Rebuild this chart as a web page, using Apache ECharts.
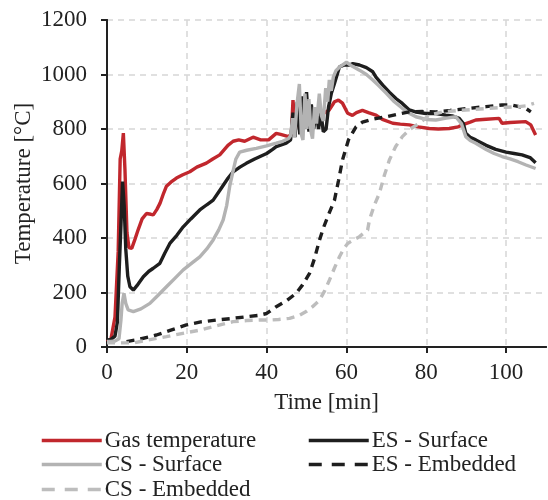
<!DOCTYPE html>
<html>
<head>
<meta charset="utf-8">
<script src="https://cdn.jsdelivr.net/npm/echarts@6/dist/echarts.min.js"></script>
<style>
  html, body { margin: 0; padding: 0; background: #fff; }
  #chart { width: 548px; height: 500px; }
</style>
</head>
<body>
<div id="chart"></div>
<script>
// [time (min), temperature (°C)]
const gasTemp = [
  [0, 20], [1, 30], [2, 110], [2.8, 350], [3.3, 690], [3.7, 720], [4.1, 785], [4.5, 650], [5, 420],
  [5.5, 365], [6.2, 362], [7, 395], [7.8, 430], [8.8, 470], [9.9, 490], [11, 487], [11.6, 485],
  [12.5, 505], [13.3, 528], [14.2, 565], [14.9, 590], [16, 605], [17.4, 620], [19, 632], [20.75, 643],
  [22.5, 660], [24.9, 675], [26.5, 690], [28.25, 705], [30.3, 740], [31.6, 755], [33, 760], [34.5, 755],
  [36.6, 770], [38.5, 760], [40.5, 760], [42.4, 784], [43.5, 780], [45.5, 772], [46.2, 780], [46.6, 906],
  [47.2, 800], [48, 860], [49, 820], [50, 850], [51, 830], [52, 860], [53, 840], [54, 855], [55.7, 870],
  [57, 900], [58, 906], [59, 895], [60.3, 858], [61.5, 850], [62.5, 860], [64, 868], [65.5, 860],
  [67.4, 851], [69, 835], [71.6, 821], [73.5, 818], [75.75, 815], [78, 808], [80.75, 802], [83, 800],
  [85.75, 802], [88, 808], [89, 815], [91, 825], [92.4, 833], [95, 836], [98.25, 839], [99, 821],
  [101, 824], [104.9, 827], [106.2, 815], [107.4, 778]
];
const esSurface = [
  [0, 25], [1, 28], [2, 40], [2.6, 90], [3.1, 300], [3.5, 450], [3.9, 607], [4.3, 520], [4.7, 360],
  [5.2, 260], [5.75, 221], [6.6, 209], [7.5, 225], [9.1, 258], [10.5, 278], [11.6, 289], [13.25, 307],
  [14.5, 345], [15.75, 380], [17.5, 410], [19.1, 441], [21, 470], [23.25, 503], [25, 522], [26.6, 539],
  [28.5, 580], [30.3, 619], [31.6, 643], [33.3, 660], [34.9, 674], [37, 690], [38.5, 700], [40, 710],
  [41.5, 725], [42.4, 735], [44.9, 748], [46, 760], [46.6, 860], [47.1, 770], [47.7, 900], [48.3, 780],
  [48.9, 920], [49.5, 800], [50, 935], [50.6, 790], [51.2, 890], [51.8, 800], [52.4, 870], [53, 800],
  [53.6, 860], [54.2, 790], [54.9, 800], [55.5, 880], [56.2, 930], [57, 967], [58.25, 1028],
  [59.5, 1035], [60.75, 1035], [61.6, 1040], [63.25, 1035], [65, 1025], [66.6, 1010], [67.4, 990],
  [69.1, 961], [70.75, 935], [72.4, 912], [74, 894], [75.75, 870], [77.5, 862], [79.9, 857],
  [82.4, 857], [84.9, 851], [86.5, 848], [88.25, 839], [89.3, 820], [89.9, 784], [91, 770],
  [92.4, 760], [95, 740], [97.4, 725], [100, 715], [102, 710], [104, 705], [106, 695], [107.4, 676]
];
const csSurface = [
  [0, 20], [1, 20], [2, 22], [3, 30], [3.5, 100], [3.8, 160], [4.25, 197], [4.7, 160], [5.3, 136],
  [6.6, 130], [8.5, 140], [10.75, 160], [12.8, 190], [14.9, 221], [17, 252], [19.1, 283], [21, 305],
  [23.25, 331], [25, 360], [26.6, 393], [28, 430], [29.1, 466], [30, 520], [30.75, 590], [31.5, 640],
  [32.3, 690], [33.25, 715], [35, 722], [37.4, 729], [40, 738], [42.4, 748], [44, 755], [45.5, 765],
  [46, 775], [46.5, 840], [47, 770], [47.6, 890], [48.2, 965], [48.7, 780], [49.1, 760], [49.6, 930],
  [50.1, 800], [50.6, 910], [51.1, 790], [51.5, 765], [52, 880], [52.5, 820], [53.2, 930], [53.7, 850],
  [54.2, 830], [54.8, 950], [55.3, 900], [55.7, 980], [56.2, 940], [56.7, 990], [57.4, 1015],
  [58.5, 1030], [60, 1045], [61.5, 1030], [63.25, 1016], [65, 1000], [66.6, 980], [68, 960], [70, 931],
  [72, 900], [74, 876], [75.5, 860], [77.4, 845], [80, 835], [82.4, 833], [85, 840], [87.4, 845],
  [88.8, 820], [89.9, 772], [91, 758], [92.4, 748], [95, 725], [97, 710], [99, 699], [101, 690],
  [103, 680], [105, 668], [107.4, 655]
];
const esEmbedded = [
  [4.9, 20], [8, 28], [12.4, 44], [16, 62], [19.9, 81], [23.5, 92], [27.4, 99], [31, 104], [34.9, 111],
  [38, 116], [40, 123], [42.4, 148], [45, 170], [47.4, 197], [49, 228], [50.75, 270], [52, 325],
  [53.25, 393], [54.3, 440], [55.3, 478], [57, 539], [58, 610], [59, 686], [60.5, 760], [62.4, 808],
  [64, 825], [65.75, 833], [68, 840], [70, 845], [73, 855], [75.75, 863], [79, 864], [82.4, 863],
  [86, 868], [90.75, 876], [95, 882], [99, 888], [101.5, 888], [103.25, 882], [105, 875], [106.2, 863]
];
const csEmbedded = [
  [0, 15], [3, 15], [6.6, 15], [10, 25], [14.9, 38], [19, 50], [23.25, 62], [27.5, 78], [31.6, 93],
  [35, 97], [38.25, 99], [40.75, 99], [43, 101], [45.75, 105], [48, 115], [49.9, 130], [51.5, 148],
  [53.25, 172], [54.5, 205], [55.75, 246], [57, 290], [58.25, 331], [59.3, 360], [60.3, 380], [62, 395],
  [63.25, 405], [64.5, 420], [65.3, 429], [65.75, 466], [67, 521], [68.25, 564], [69.5, 630],
  [70.75, 686], [72.3, 735], [74, 772], [76, 800], [78.25, 821], [80.75, 851], [84, 862], [88, 868],
  [92, 872], [96, 876], [100, 880], [103.25, 882], [105, 885], [107, 894]
];
const timeTicks = [0, 20, 40, 60, 80, 100];

const FONT = 'Liberation Serif';
const chart = echarts.init(document.getElementById('chart'));

const gridLine = {
  show: true,
  lineStyle: { color: '#d6d6d6', width: 1.5, type: [6, 5] },
};
const frameLine = { show: true, lineStyle: { color: '#222', width: 2 } };

const mkLine = (name, data, color, dashed) => ({
  name,
  type: 'line',
  data,
  symbol: 'none',
  animation: false,
  z: 5,
  lineStyle: {
    color,
    width: 3.4,
    type: dashed ? [8, 6] : 'solid',
  },
  itemStyle: { color },
});

const mkLegend = (name, left, top, dashed) => ({
  data: [name],
  left,
  top,
  itemWidth: 60,
  itemHeight: 14,
  itemGap: 0,
  padding: 0,
  selectedMode: false,
  itemStyle: { opacity: 0 },
  lineStyle: { width: 3.5, type: dashed ? [13, 10] : 'solid' },
  textStyle: { fontFamily: FONT, fontSize: 23, color: '#222', padding: [0, 0, 0, -2] },
});

chart.setOption({
  backgroundColor: '#fff',
  grid: {
    left: 107,
    right: 2,
    top: 20,
    bottom: 153,
  },
  xAxis: [
    {
      type: 'value',
      min: 0,
      max: 110,
      interval: 20,
      name: 'Time [min]',
      nameLocation: 'middle',
      nameGap: 44,
      nameTextStyle: { fontFamily: FONT, fontSize: 23, color: '#222' },
      axisLine: frameLine,
      axisTick: { show: true, length: 6, lineStyle: { color: '#222', width: 2 }, customValues: timeTicks },
      axisLabel: { fontFamily: FONT, fontSize: 23, color: '#222', margin: 14, customValues: timeTicks },
      splitLine: gridLine,
    },
    {
      type: 'value',
      position: 'top',
      min: 0,
      max: 110,
      axisLine: frameLine,
      axisTick: { show: false },
      axisLabel: { show: false },
      splitLine: { show: false },
    },
  ],
  yAxis: [
    {
      type: 'value',
      min: 0,
      max: 1200,
      interval: 200,
      name: 'Temperature [°C]',
      nameLocation: 'middle',
      nameGap: 72,
      nameMoveOverlap: false,
      nameTextStyle: { fontFamily: FONT, fontSize: 23, color: '#222' },
      axisLine: frameLine,
      axisTick: { show: true, length: 6, lineStyle: { color: '#222', width: 2 } },
      axisLabel: { fontFamily: FONT, fontSize: 23, color: '#222', margin: 20, formatter: (v) => String(v) },
      splitLine: gridLine,
    },
    {
      type: 'value',
      position: 'right',
      min: 0,
      max: 1200,
      axisLine: frameLine,
      axisTick: { show: false },
      axisLabel: { show: false },
      splitLine: { show: false },
    },
  ],
  legend: [
    mkLegend('Gas temperature', 40, 429, false),
    mkLegend('ES - Surface', 307, 429, false),
    mkLegend('CS - Surface', 40, 453, false),
    mkLegend('ES - Embedded', 307, 453, true),
    mkLegend('CS - Embedded', 40, 478, true),
  ],
  series: [
    mkLine('Gas temperature', gasTemp, '#c1272d', false),
    mkLine('ES - Surface', esSurface, '#1e1e1e', false),
    mkLine('CS - Surface', csSurface, '#b3b3b3', false),
    mkLine('ES - Embedded', esEmbedded, '#1e1e1e', true),
    mkLine('CS - Embedded', csEmbedded, '#bdbdbd', true),
  ],
});
</script>
</body>
</html>
